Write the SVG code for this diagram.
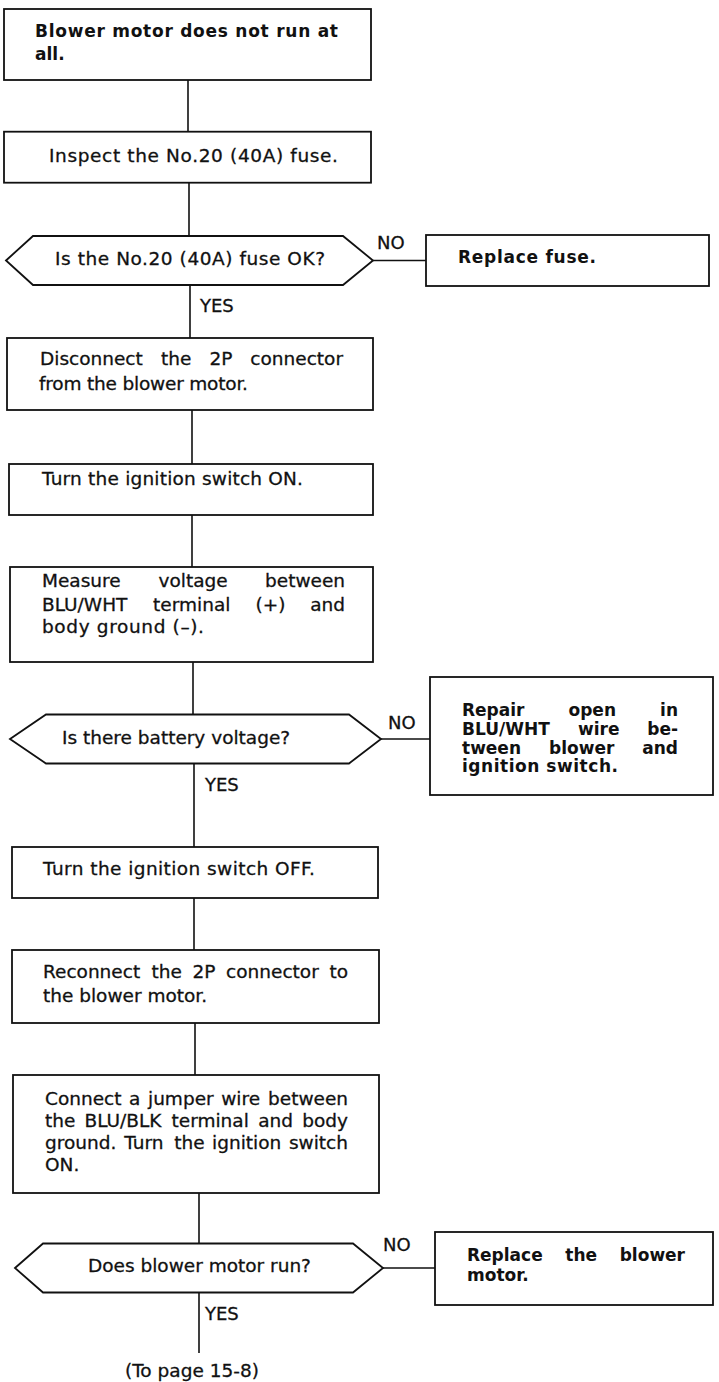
<svg xmlns="http://www.w3.org/2000/svg" width="719" height="1382" viewBox="0 0 719 1382">
<style>
.box{fill:#fff;stroke:#111;stroke-width:1.8}
.ln{stroke:#111;stroke-width:1.6;fill:none}
.t{font-family:"DejaVu Sans","Liberation Sans",sans-serif;font-size:18.5px;fill:#111;stroke:#111;stroke-width:0.3}
.b{font-family:"DejaVu Sans","Liberation Sans",sans-serif;font-weight:bold;font-size:17px;fill:#111}
.l{font-family:"DejaVu Sans","Liberation Sans",sans-serif;font-size:18px;fill:#111;stroke:#111;stroke-width:0.3}
.e{text-anchor:end}
</style>
<rect width="719" height="1382" fill="#fff"/>
<g id="connectors">
<path class="ln" d="M188 80V131.7M189 182.7V236M190 285V338M192 410V464M192 515V567M193 662V714.5M194 763.5V847M194 898V950M195 1023V1075M199 1193V1243.5M199 1292.5V1353"/>
<path class="ln" d="M373 260.5H426M381 739H430M383 1268H435"/>
<text class="l" x="377" y="249">NO</text>
<text class="l" x="200" y="312">YES</text>
<text class="l" x="388" y="729">NO</text>
<text class="l" x="205" y="791">YES</text>
<text class="l" x="383" y="1251">NO</text>
<text class="l" x="205" y="1320">YES</text>
<text class="t" x="125" y="1377">(To page 15-8)</text>
</g>
<g id="n1">
<rect class="box" x="4" y="9" width="367" height="71"/>
<text class="b" x="35" y="37" textLength="303">Blower motor does not run at</text>
<text class="b" x="35" y="60">all.</text>
</g>
<g id="n2">
<rect class="box" x="4" y="131.7" width="367" height="51"/>
<text class="t" x="49" y="162" textLength="289">Inspect the No.20 (40A) fuse.</text>
</g>
<g id="d1">
<polygon class="box" points="6,260.5 33,236 343,236 373,260.5 343,285 33,285"/>
<text class="t" x="55" y="265" textLength="270">Is the No.20 (40A) fuse OK?</text>
</g>
<g id="r1">
<rect class="box" x="426" y="235" width="283" height="51"/>
<text class="b" x="458" y="263" textLength="138">Replace fuse.</text>
</g>
<g id="n3">
<rect class="box" x="7" y="338" width="366" height="72"/>
<text class="t" y="365"><tspan x="40">Disconnect</tspan><tspan x="161">the</tspan><tspan x="209.4">2P</tspan><tspan class="e" x="343">connector</tspan></text>
<text class="t" x="39" y="390" textLength="209">from the blower motor.</text>
</g>
<g id="n4">
<rect class="box" x="9" y="464" width="364" height="51"/>
<text class="t" x="42" y="485" textLength="261">Turn the ignition switch ON.</text>
</g>
<g id="n5">
<rect class="box" x="10" y="567" width="363" height="95"/>
<text class="t" y="587"><tspan x="42">Measure</tspan><tspan x="158.5">voltage</tspan><tspan class="e" x="345">between</tspan></text>
<text class="t" y="610.5"><tspan x="42">BLU/WHT</tspan><tspan x="153.1">terminal</tspan><tspan x="255.5">(+)</tspan><tspan class="e" x="345">and</tspan></text>
<text class="t" x="42" y="633" textLength="162">body ground (–).</text>
</g>
<g id="d2">
<polygon class="box" points="10,739 46,714.5 349,714.5 381,739 349,763.5 46,763.5"/>
<text class="t" x="62" y="744">Is there battery voltage?</text>
</g>
<g id="r2">
<rect class="box" x="430" y="677" width="283" height="118"/>
<text class="b" y="716"><tspan x="462">Repair</tspan><tspan x="568.5">open</tspan><tspan class="e" x="678">in</tspan></text>
<text class="b" y="735"><tspan x="462">BLU/WHT</tspan><tspan x="578">wire</tspan><tspan class="e" x="678">be-</tspan></text>
<text class="b" y="753.5"><tspan x="462">tween</tspan><tspan x="549">blower</tspan><tspan class="e" x="678">and</tspan></text>
<text class="b" x="462" y="772" textLength="156">ignition switch.</text>
</g>
<g id="n6">
<rect class="box" x="12" y="847" width="366" height="51"/>
<text class="t" x="43" y="875" textLength="272">Turn the ignition switch OFF.</text>
</g>
<g id="n7">
<rect class="box" x="12" y="950" width="367" height="73"/>
<text class="t" y="978"><tspan x="43">Reconnect</tspan><tspan x="151.6">the</tspan><tspan x="192.6">2P</tspan><tspan x="226.1">connector</tspan><tspan class="e" x="348">to</tspan></text>
<text class="t" x="43" y="1002">the blower motor.</text>
</g>
<g id="n8">
<rect class="box" x="13" y="1075" width="366" height="118"/>
<text class="t" y="1105"><tspan x="45">Connect</tspan><tspan x="129.1">a</tspan><tspan x="148">jumper</tspan><tspan x="221.2">wire</tspan><tspan class="e" x="348">between</tspan></text>
<text class="t" y="1127"><tspan x="45">the</tspan><tspan x="84.5">BLU/BLK</tspan><tspan x="171.5">terminal</tspan><tspan x="258.2">and</tspan><tspan class="e" x="348">body</tspan></text>
<text class="t" y="1149"><tspan x="45">ground.</tspan><tspan x="124.3">Turn</tspan><tspan x="174.2">the</tspan><tspan x="212.1">ignition</tspan><tspan class="e" x="348">switch</tspan></text>
<text class="t" x="45" y="1171">ON.</text>
</g>
<g id="d3">
<polygon class="box" points="15,1268 43,1243.5 353,1243.5 383,1268 353,1292.5 43,1292.5"/>
<text class="t" x="88" y="1272">Does blower motor run?</text>
</g>
<g id="r3">
<rect class="box" x="435" y="1232" width="278" height="73"/>
<text class="b" y="1261"><tspan x="467">Replace</tspan><tspan x="565.3">the</tspan><tspan class="e" x="685">blower</tspan></text>
<text class="b" x="467" y="1281">motor.</text>
</g>
</svg>
